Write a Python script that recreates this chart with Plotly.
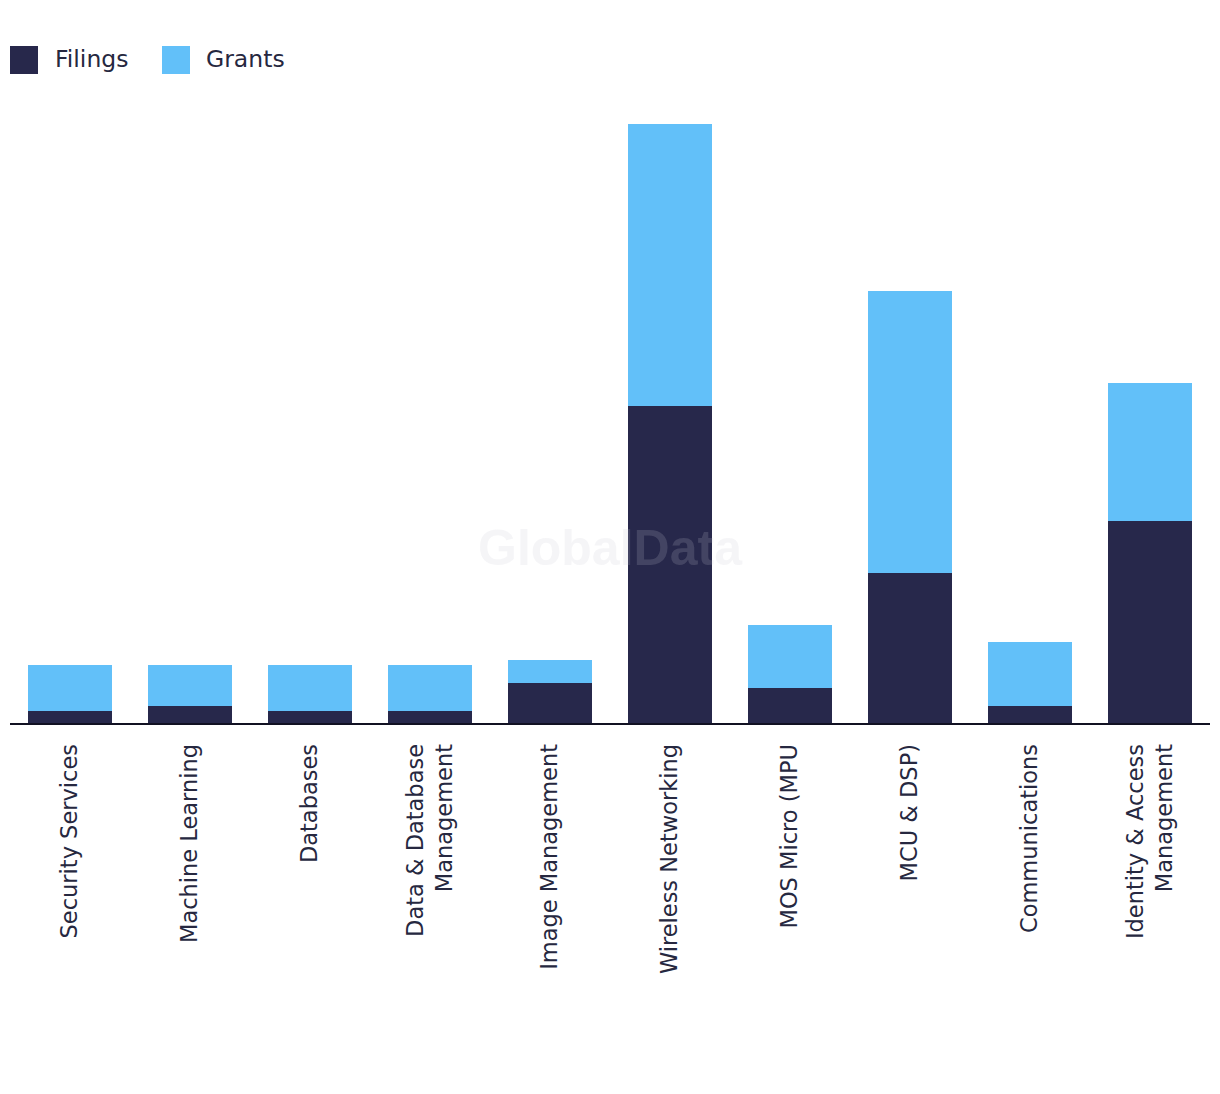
import plotly.graph_objects as go

categories = ["Security Services", "Machine Learning", "Databases",
              "Data & Database<br>Management", "Image Management",
              "Wireless Networking", "MOS Micro (MPU", "MCU & DSP)",
              "Communications", "Identity & Access<br>Management"]
filings = [2, 3, 2, 2, 7, 55, 6, 26, 3, 35]
grants = [8, 7, 8, 8, 4, 49, 11, 49, 11, 24]

FILL_DARK = "#27284b"
FILL_LIGHT = "#62c0f9"
TEXT = "#262840"
FONT = "DejaVu Sans"

PLOT_W = 1200
PLOT_H = 623
TOP = 92

fig = go.Figure()
fig.add_trace(go.Bar(x=categories, y=filings, name="Filings",
                     marker=dict(color=FILL_DARK, line=dict(width=0))))
fig.add_trace(go.Bar(x=categories, y=grants, name="Grants",
                     marker=dict(color=FILL_LIGHT, line=dict(width=0))))


def py(pixel_y):
    # page pixel (reference) -> paper y
    return 1 + (TOP + 8 - pixel_y) / PLOT_H


fig.update_layout(
    width=1220, height=1094,
    barmode="stack", bargap=0.3,
    showlegend=False,
    plot_bgcolor="white", paper_bgcolor="white",
    margin=dict(l=2, r=18, t=TOP, b=1094 - TOP - PLOT_H),
    font=dict(family=FONT, size=22, color=TEXT),
    xaxis=dict(showgrid=False, showline=True, linecolor="#111122", linewidth=2,
               tickangle=-90, ticks="outside", ticklen=10, tickcolor="rgba(0,0,0,0)",
               tickfont=dict(family=FONT, size=22.5, color=TEXT)),
    yaxis=dict(visible=False, range=[0, 108.2], showgrid=False, zeroline=False),
    shapes=[
        dict(type="rect", xref="paper", yref="paper", x0=0, x1=28 / PLOT_W,
             y0=py(74), y1=py(46), fillcolor=FILL_DARK, line=dict(width=0)),
        dict(type="rect", xref="paper", yref="paper", x0=152 / PLOT_W, x1=180 / PLOT_W,
             y0=py(74), y1=py(46), fillcolor=FILL_LIGHT, line=dict(width=0)),
    ],
    annotations=[
        dict(text="Filings", xref="paper", yref="paper", x=43 / PLOT_W, y=py(59),
             xanchor="left", yanchor="middle", showarrow=False,
             font=dict(family=FONT, size=23.5, color=TEXT)),
        dict(text="Grants", xref="paper", yref="paper", x=194 / PLOT_W, y=py(59),
             xanchor="left", yanchor="middle", showarrow=False,
             font=dict(family=FONT, size=23.5, color=TEXT)),
        dict(text="<b>GlobalData</b>", xref="paper", yref="paper", x=600 / PLOT_W,
             y=py(548), xanchor="center", yanchor="middle", showarrow=False,
             font=dict(family="Liberation Sans", size=50, color="rgba(200,200,212,0.18)")),
    ],
)

fig.write_html("out.html")
